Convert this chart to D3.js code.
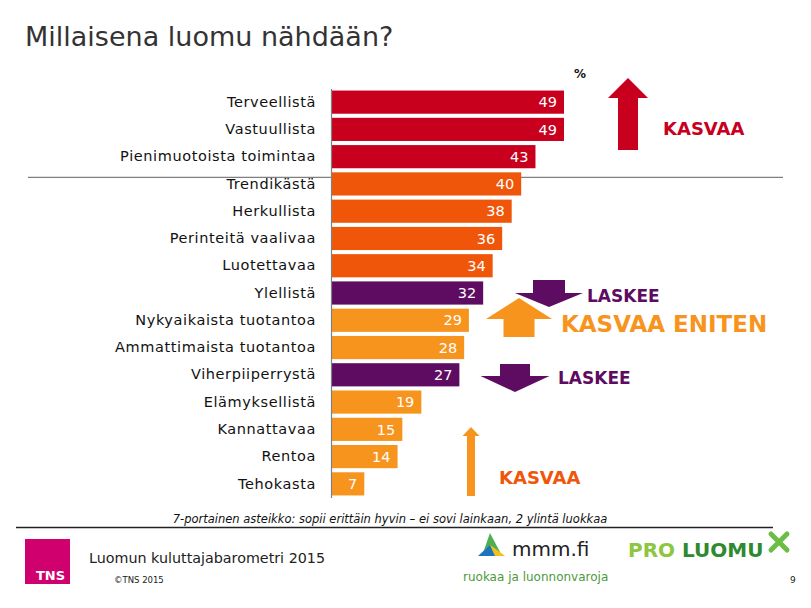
<!DOCTYPE html>
<html>
<head>
<meta charset="utf-8">
<script src="https://cdn.jsdelivr.net/npm/d3@7/dist/d3.min.js"></script>
<style>
  html, body { margin: 0; padding: 0; background: #fff; }
  svg { display: block; }
  text { font-family: "DejaVu Sans", Verdana, sans-serif; }
</style>
</head>
<body>
<svg id="chart" width="811" height="608"></svg>
<script>
const categories = ["Terveellistä", "Vastuullista", "Pienimuotoista toimintaa", "Trendikästä", "Herkullista",
  "Perinteitä vaalivaa", "Luotettavaa", "Ylellistä", "Nykyaikaista tuotantoa", "Ammattimaista tuotantoa",
  "Viherpiiperrystä", "Elämyksellistä", "Kannattavaa ", "Rentoa", "Tehokasta"];
const values = [49, 49, 43, 40, 38, 36, 34, 32, 29, 28, 27, 19, 15, 14, 7];
const groups = ["red", "red", "red", "orangered", "orangered", "orangered", "orangered", "purple",
  "orange", "orange", "purple", "orange", "orange", "orange", "orange"];
const groupColors = { red: "#C8001E", orangered: "#F0560A", purple: "#5E0C62", orange: "#F7941E" };

const svg = d3.select("#chart");

// Title
svg.append("text").attr("x", 25).attr("y", 46)
  .attr("font-size", 27).attr("fill", "#333").text("Millaisena luomu nähdään?");

const x = d3.scaleLinear().domain([0, 49]).range([331, 564]);
const y = d3.scaleBand().domain(categories).range([88.5, 497.5]).paddingInner(0.15).paddingOuter(0.075);

// Separator line (slide decoration)
svg.append("line").attr("x1", 28).attr("x2", 783)
  .attr("y1", y(categories[3]) + 5).attr("y2", y(categories[3]) + 5)
  .attr("stroke", "#808080").attr("stroke-width", 1.2);

// Bars
const data = categories.map((c, i) => ({ c, v: values[i], g: groups[i] }));
svg.append("g").selectAll("rect").data(data).join("rect")
  .attr("x", x(0)).attr("y", d => y(d.c))
  .attr("width", d => x(d.v) - x(0)).attr("height", y.bandwidth())
  .attr("fill", d => groupColors[d.g]);

// Value labels
svg.append("g").selectAll("text").data(data).join("text")
  .attr("x", d => x(d.v) - 7).attr("y", d => y(d.c) + y.bandwidth() / 2)
  .attr("dy", "0.36em").attr("text-anchor", "end")
  .attr("font-size", 14.5).attr("fill", "#fff").text(d => d.v);

// Category axis
const axis = svg.append("g").attr("transform", `translate(${x(0)},0)`)
  .call(d3.axisLeft(y).tickSize(0).tickPadding(15));
axis.select(".domain").attr("stroke", "#808080").attr("stroke-width", 1.2);
axis.selectAll("text").attr("font-size", 14.5).attr("fill", "#111")
  .attr("letter-spacing", 0.6)
  .attr("font-family", "DejaVu Sans, Verdana, sans-serif");

// % label
svg.append("text").attr("x", 574).attr("y", 78).attr("font-size", 12)
  .attr("font-weight", "bold").attr("fill", "#111").text("%");

// Arrow helper: up/down block arrow
function arrow(cx, top, bottom, shaftW, headW, headLen, dir, color) {
  let pts;
  if (dir === "up") {
    pts = [[cx, top], [cx + headW / 2, top + headLen], [cx + shaftW / 2, top + headLen], [cx + shaftW / 2, bottom],
      [cx - shaftW / 2, bottom], [cx - shaftW / 2, top + headLen], [cx - headW / 2, top + headLen]];
  } else {
    pts = [[cx - shaftW / 2, top], [cx + shaftW / 2, top], [cx + shaftW / 2, bottom - headLen], [cx + headW / 2, bottom - headLen],
      [cx, bottom], [cx - headW / 2, bottom - headLen], [cx - shaftW / 2, bottom - headLen]];
  }
  svg.append("polygon").attr("points", pts.map(p => p.join(",")).join(" ")).attr("fill", color);
}

arrow(628, 78, 150, 20, 40, 20, "up", "#C8001E");
svg.append("text").attr("x", 663).attr("y", 135).attr("font-size", 18).attr("font-weight", "bold")
  .attr("fill", "#C8001E").text("KASVAA");

arrow(549, 280, 307, 32, 68, 14, "down", "#5E0C62");
svg.append("text").attr("x", 587).attr("y", 302).attr("font-size", 17).attr("font-weight", "bold")
  .attr("fill", "#5E0C62").text("LASKEE");

arrow(519, 298, 337, 31, 66, 21, "up", "#F7941E");
svg.append("text").attr("x", 561).attr("y", 332).attr("font-size", 23).attr("font-weight", "bold")
  .attr("fill", "#F7941E").text("KASVAA ENITEN");

arrow(515, 364, 392, 30, 69, 16, "down", "#5E0C62");
svg.append("text").attr("x", 558).attr("y", 384).attr("font-size", 17).attr("font-weight", "bold")
  .attr("fill", "#5E0C62").text("LASKEE");

arrow(471, 427, 496, 8, 17, 9, "up", "#F7941E");
svg.append("text").attr("x", 499).attr("y", 484).attr("font-size", 18).attr("font-weight", "bold")
  .attr("fill", "#F0560A").text("KASVAA");

// Footnote
svg.append("text").attr("x", 390).attr("y", 523).attr("text-anchor", "middle")
  .attr("font-size", 11.5).attr("font-style", "italic").attr("fill", "#111")
  .text("7-portainen asteikko: sopii erittäin hyvin – ei sovi lainkaan, 2 ylintä luokkaa");
svg.append("line").attr("x1", 16).attr("x2", 773).attr("y1", 527.5).attr("y2", 527.5)
  .attr("stroke", "#222").attr("stroke-width", 1.3);

// Footer: TNS logo
svg.append("rect").attr("x", 25).attr("y", 539).attr("width", 45).attr("height", 45).attr("fill", "#D1006F");
svg.append("text").attr("x", 36).attr("y", 580).attr("font-size", 13).attr("font-weight", "bold")
  .attr("font-family", "Liberation Sans Narrow, Liberation Sans, sans-serif").attr("fill", "#fff").text("TNS");
svg.append("text").attr("x", 89).attr("y", 563).attr("font-size", 14.3).attr("fill", "#222")
  .text("Luomun kuluttajabarometri 2015");
svg.append("text").attr("x", 114).attr("y", 583).attr("font-size", 8.5).attr("fill", "#222")
  .attr("font-family", "Liberation Sans, Arial, sans-serif").text("©TNS 2015");

// mmm.fi logo approximation
svg.append("polygon").attr("points", "482,556 490,533 500,552").attr("fill", "#4CAF50");
svg.append("polygon").attr("points", "478,556 490,545 497,556").attr("fill", "#1E73BE");
svg.append("polygon").attr("points", "490,545 500,552 505,556 495,556").attr("fill", "#F2C21B");
svg.append("text").attr("x", 512).attr("y", 556).attr("font-size", 20).attr("fill", "#222")
  .attr("font-family", "Liberation Sans, Arial, sans-serif").text("mmm.fi");
svg.append("text").attr("x", 463).attr("y", 581).attr("font-size", 12).attr("fill", "#4C9A3C")
  .attr("font-family", "Liberation Sans, Arial, sans-serif").text("ruokaa ja luonnonvaroja");

// PRO LUOMU logo approximation
const pl = svg.append("text").attr("x", 628).attr("y", 557).attr("font-size", 20).attr("font-weight", "bold")
  .attr("font-family", "Liberation Sans Narrow, Liberation Sans, Arial, sans-serif");
pl.append("tspan").attr("fill", "#8DC63F").text("PRO ");
pl.append("tspan").attr("fill", "#2D8A2E").text("LUOMU");
svg.append("path").attr("d", "M771,534 L787,550 M787,534 L771,550").attr("stroke", "#6BBE45")
  .attr("stroke-width", 5).attr("stroke-linecap", "round");

svg.append("text").attr("x", 790).attr("y", 583).attr("font-size", 9).attr("fill", "#222").text("9");
</script>
</body>
</html>
